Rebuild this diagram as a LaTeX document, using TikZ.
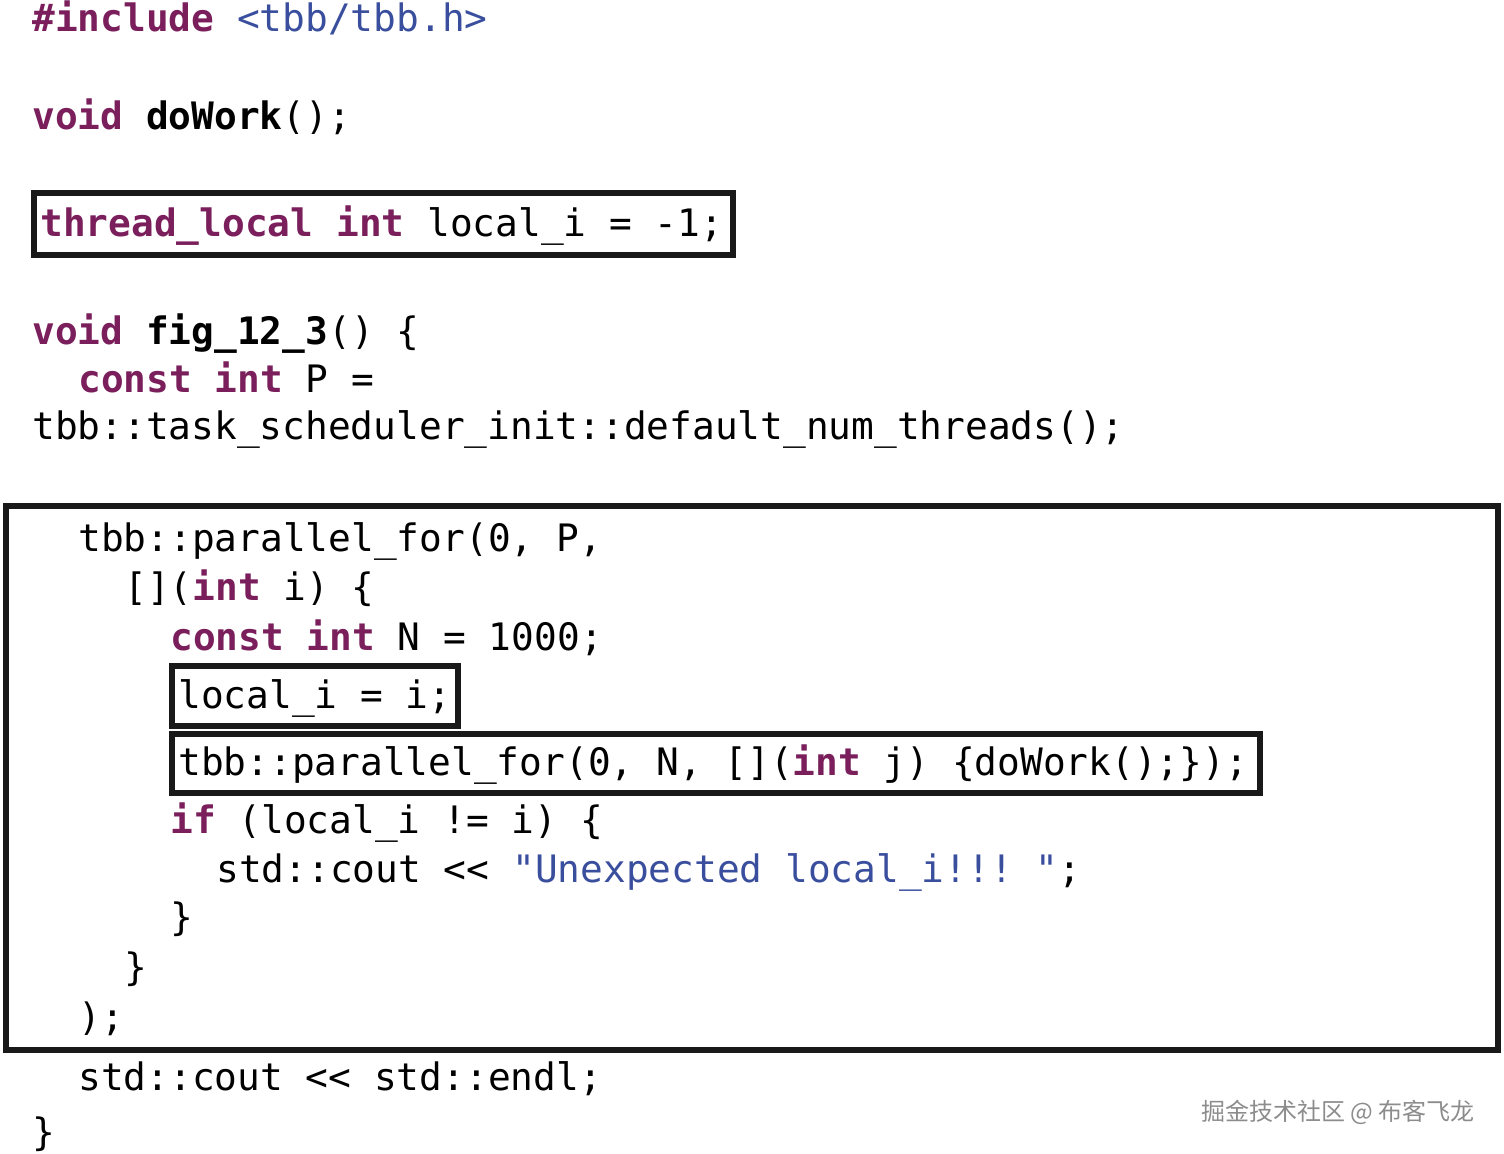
\documentclass[tikz,border=0pt]{standalone}
\usepackage{fontspec}
\setmonofont{DejaVu Sans Mono}
\newfontfamily\cjk{Noto Sans CJK SC}
\definecolor{kw}{HTML}{7A1F5C}
\definecolor{str}{HTML}{3A4E9E}
\newcommand{\kw}[1]{{\bfseries\color{kw}#1}}
\newcommand{\st}[1]{{\color{str}#1}}
\begin{document}
\begin{tikzpicture}[x=0.5pt,y=-0.5pt,
  code/.style={anchor=base west,inner sep=0,font=\ttfamily\fontsize{18.9}{22}\selectfont},
  boxx/.style={draw=black!90,line width=3pt}]
\useasboundingbox (0,0) rectangle (1504,1154);
\draw[boxx] (34,193) rectangle (733,255);
\draw[boxx] (6,506) rectangle (1498,1050);
\draw[boxx] (172,666) rectangle (458,726);
\draw[boxx] (172,734) rectangle (1260,793);
\node[code] (l1) at (32,32) {\kw{\#include} \st{<tbb/tbb.h>}};
\node[code] (l2) at (32,130) {\kw{void} \textbf{doWork}();};
\node[code] (l3) at (40,237) {\kw{thread\_local} \kw{int} local\_i = -1;};
\node[code] (l4) at (32,345) {\kw{void} \textbf{fig\_12\_3}() \{};
\node[code] (l5) at (78,393) {\kw{const} \kw{int} P =};
\node[code] (l6) at (32,440) {tbb::task\_scheduler\_init::default\_num\_threads();};
\node[code] (l7) at (78,552) {tbb::parallel\_for(0, P,};
\node[code] (l8) at (124,600) {[](\kw{int} i) \{};
\node[code] (l9) at (170,650) {\kw{const} \kw{int} N = 1000;};
\node[code] (l10) at (178,708) {local\_i = i;};
\node[code] (l11) at (178,775) {tbb::parallel\_for(0, N, [](\kw{int} j) \{doWork();\});};
\node[code] (l12) at (170,833) {\kw{if} (local\_i != i) \{};
\node[code] (l13) at (216,882) {std::cout << \st{"Unexpected local\_i!!! "};};
\node[code] (l14) at (170,930) {\}};
\node[code] (l15) at (124,980) {\}};
\node[code] (l16) at (78,1030) {);};
\node[code] (l17) at (78,1090) {std::cout << std::endl;};
\node[code] (l18) at (32,1145) {\}};
\node[anchor=base east,inner sep=0,font=\cjk\fontsize{12}{14}\selectfont,text=black!45] (wm) at (1475,1120) {掘金技术社区 @ 布客飞龙};
\end{tikzpicture}
\end{document}
